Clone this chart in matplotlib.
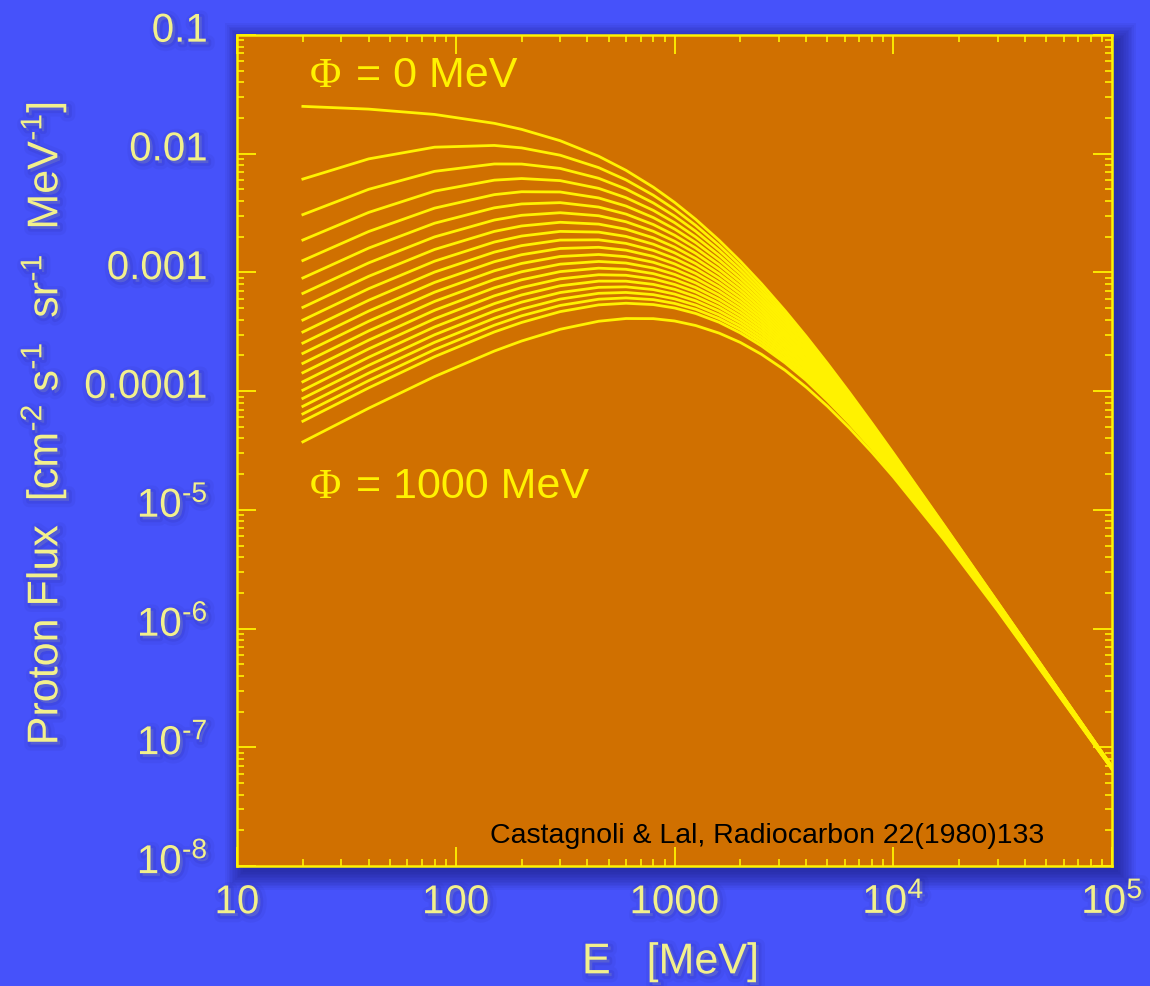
import numpy as np
import matplotlib
matplotlib.use("Agg")
import matplotlib.pyplot as plt
import matplotlib.patheffects as pe
import matplotlib.transforms as mtransforms
from matplotlib.patches import Rectangle
from matplotlib.ticker import LogLocator, NullFormatter

plt.rcParams['font.family'] = ['Liberation Sans', 'DejaVu Sans']
plt.rcParams['mathtext.fontset'] = 'custom'
plt.rcParams['mathtext.rm'] = 'Liberation Sans'
plt.rcParams['mathtext.it'] = 'Liberation Sans:italic'
plt.rcParams['mathtext.bf'] = 'Liberation Sans:bold'

# %%
# proton kinetic energy [MeV]
energy = [20, 40, 80, 150, 200, 300, 450, 600, 800, 1000, 1250, 1600, 2000, 2500,
          3200, 4000, 5000, 6300, 8000, 1e4, 17000, 3e4, 1e5]

# proton flux [cm-2 s-1 sr-1 MeV-1], one curve per modulation potential
flux_phi0 = [2.505e-2, 2.375e-2, 2.142e-2, 1.803e-2, 1.604e-2, 1.287e-2, 9.518e-3, 7.245e-3, 5.223e-3, 3.892e-3, 2.798e-3, 1.863e-3, 1.243e-3, 8.02e-4, 4.766e-4, 2.892e-4, 1.713e-4, 9.751e-5, 5.347e-5, 3.013e-5, 7.498e-6, 1.668e-6, 6.861e-8]
flux_phi50 = [6.116e-3, 9.048e-3, 1.135e-2, 1.174e-2, 1.120e-2, 9.716e-3, 7.635e-3, 6.018e-3, 4.470e-3, 3.399e-3, 2.489e-3, 1.688e-3, 1.142e-3, 7.46e-4, 4.49e-4, 2.753e-4, 1.644e-4, 9.432e-5, 5.205e-5, 2.948e-5, 7.399e-6, 1.655e-6, 6.845e-8]
flux_phi100 = [3.069e-3, 5.014e-3, 7.103e-3, 8.197e-3, 8.185e-3, 7.519e-3, 6.208e-3, 5.043e-3, 3.848e-3, 2.982e-3, 2.222e-3, 1.532e-3, 1.051e-3, 6.96e-4, 4.24e-4, 2.621e-4, 1.579e-4, 9.124e-5, 5.067e-5, 2.884e-5, 7.301e-6, 1.642e-6, 6.829e-8]
flux_phi150 = [1.875e-3, 3.204e-3, 4.842e-3, 5.989e-3, 6.180e-3, 5.935e-3, 5.106e-3, 4.260e-3, 3.331e-3, 2.627e-3, 1.988e-3, 1.393e-3, 9.69e-4, 6.49e-4, 4.00e-4, 2.497e-4, 1.516e-4, 8.825e-5, 4.934e-5, 2.821e-5, 7.205e-6, 1.630e-6, 6.813e-8]
flux_phi200 = [1.260e-3, 2.212e-3, 3.481e-3, 4.522e-3, 4.783e-3, 4.761e-3, 4.240e-3, 3.624e-3, 2.897e-3, 2.322e-3, 1.784e-3, 1.270e-3, 8.95e-4, 6.06e-4, 3.78e-4, 2.379e-4, 1.457e-4, 8.537e-5, 4.803e-5, 2.760e-5, 7.110e-6, 1.617e-6, 6.798e-8]
flux_phi250 = [8.98e-4, 1.604e-3, 2.598e-3, 3.501e-3, 3.776e-3, 3.872e-3, 3.554e-3, 3.101e-3, 2.531e-3, 2.059e-3, 1.605e-3, 1.159e-3, 8.27e-4, 5.66e-4, 3.57e-4, 2.269e-4, 1.400e-4, 8.265e-5, 4.676e-5, 2.700e-5, 7.017e-6, 1.605e-6, 6.782e-8]
flux_phi300 = [6.66e-4, 1.204e-3, 1.992e-3, 2.763e-3, 3.029e-3, 3.184e-3, 3.002e-3, 2.671e-3, 2.220e-3, 1.832e-3, 1.447e-3, 1.060e-3, 7.65e-4, 5.30e-4, 3.38e-4, 2.164e-4, 1.346e-4, 8.001e-5, 4.556e-5, 2.643e-5, 6.925e-6, 1.593e-6, 6.766e-8]
flux_phi350 = [5.08e-4, 9.28e-4, 1.561e-3, 2.216e-3, 2.462e-3, 2.645e-3, 2.553e-3, 2.311e-3, 1.955e-3, 1.635e-3, 1.308e-3, 9.71e-4, 7.09e-4, 4.96e-4, 3.20e-4, 2.067e-4, 1.295e-4, 7.746e-5, 4.438e-5, 2.587e-5, 6.835e-6, 1.581e-6, 6.751e-8]
flux_phi400 = [3.97e-4, 7.30e-4, 1.244e-3, 1.803e-3, 2.025e-3, 2.216e-3, 2.186e-3, 2.010e-3, 1.728e-3, 1.464e-3, 1.186e-3, 8.91e-4, 6.58e-4, 4.65e-4, 3.03e-4, 1.975e-4, 1.245e-4, 7.499e-5, 4.324e-5, 2.532e-5, 6.746e-6, 1.569e-6, 6.735e-8]
flux_phi450 = [3.15e-4, 5.83e-4, 1.007e-3, 1.483e-3, 1.682e-3, 1.873e-3, 1.882e-3, 1.756e-3, 1.532e-3, 1.313e-3, 1.076e-3, 8.19e-4, 6.11e-4, 4.36e-4, 2.87e-4, 1.888e-4, 1.199e-4, 7.267e-5, 4.212e-5, 2.478e-5, 6.658e-6, 1.557e-6, 6.720e-8]
flux_phi500 = [2.54e-4, 4.73e-4, 8.24e-4, 1.231e-3, 1.410e-3, 1.592e-3, 1.628e-3, 1.540e-3, 1.364e-3, 1.181e-3, 9.79e-4, 7.54e-4, 5.68e-4, 4.10e-4, 2.72e-4, 1.807e-4, 1.153e-4, 7.041e-5, 4.104e-5, 2.426e-5, 6.572e-6, 1.545e-6, 6.704e-8]
flux_phi550 = [2.08e-4, 3.88e-4, 6.82e-4, 1.032e-3, 1.191e-3, 1.363e-3, 1.416e-3, 1.357e-3, 1.217e-3, 1.065e-3, 8.92e-4, 6.95e-4, 5.29e-4, 3.85e-4, 2.58e-4, 1.729e-4, 1.111e-4, 6.823e-5, 4.001e-5, 2.376e-5, 6.488e-6, 1.534e-6, 6.689e-8]
flux_phi600 = [1.715e-4, 3.22e-4, 5.70e-4, 8.72e-4, 1.013e-3, 1.174e-3, 1.237e-3, 1.200e-3, 1.089e-3, 9.63e-4, 8.15e-4, 6.42e-4, 4.93e-4, 3.62e-4, 2.45e-4, 1.656e-4, 1.070e-4, 6.611e-5, 3.900e-5, 2.326e-5, 6.404e-6, 1.522e-6, 6.673e-8]
flux_phi650 = [1.43e-4, 2.69e-4, 4.80e-4, 7.42e-4, 8.67e-4, 1.016e-3, 1.086e-3, 1.063e-3, 9.77e-4, 8.72e-4, 7.45e-4, 5.93e-4, 4.60e-4, 3.41e-4, 2.33e-4, 1.585e-4, 1.031e-4, 6.411e-5, 3.802e-5, 2.278e-5, 6.322e-6, 1.511e-6, 6.658e-8]
flux_phi700 = [1.20e-4, 2.27e-4, 4.07e-4, 6.35e-4, 7.46e-4, 8.83e-4, 9.56e-4, 9.46e-4, 8.80e-4, 7.92e-4, 6.83e-4, 5.49e-4, 4.29e-4, 3.21e-4, 2.21e-4, 1.519e-4, 9.93e-5, 6.217e-5, 3.707e-5, 2.230e-5, 6.241e-6, 1.500e-6, 6.643e-8]
flux_phi750 = [1.019e-4, 1.93e-4, 3.475e-4, 5.46e-4, 6.46e-4, 7.72e-4, 8.45e-4, 8.44e-4, 7.93e-4, 7.21e-4, 6.26e-4, 5.09e-4, 4.01e-4, 3.03e-4, 2.10e-4, 1.456e-4, 9.58e-5, 6.029e-5, 3.614e-5, 2.184e-5, 6.162e-6, 1.489e-6, 6.627e-8]
flux_phi800 = [8.69e-5, 1.65e-4, 2.985e-4, 4.73e-4, 5.62e-4, 6.77e-4, 7.49e-4, 7.56e-4, 7.17e-4, 6.57e-4, 5.76e-4, 4.72e-4, 3.76e-4, 2.85e-4, 2.00e-4, 1.396e-4, 9.23e-5, 5.847e-5, 3.525e-5, 2.139e-5, 6.083e-6, 1.478e-6, 6.612e-8]
flux_phi850 = [7.45e-5, 1.42e-4, 2.577e-4, 4.11e-4, 4.91e-4, 5.96e-4, 6.67e-4, 6.78e-4, 6.50e-4, 5.99e-4, 5.30e-4, 4.38e-4, 3.52e-4, 2.69e-4, 1.90e-4, 1.339e-4, 8.91e-5, 5.674e-5, 3.439e-5, 2.096e-5, 6.006e-6, 1.467e-6, 6.597e-8]
flux_phi900 = [6.43e-5, 1.227e-4, 2.238e-4, 3.593e-4, 4.31e-4, 5.27e-4, 5.95e-4, 6.10e-4, 5.90e-4, 5.48e-4, 4.89e-4, 4.08e-4, 3.30e-4, 2.54e-4, 1.81e-4, 1.284e-4, 8.59e-5, 5.507e-5, 3.355e-5, 2.054e-5, 5.930e-6, 1.456e-6, 6.582e-8]
flux_phi950 = [5.58e-5, 1.066e-4, 1.952e-4, 3.152e-4, 3.79e-4, 4.675e-4, 5.33e-4, 5.50e-4, 5.36e-4, 5.02e-4, 4.51e-4, 3.80e-4, 3.09e-4, 2.40e-4, 1.73e-4, 1.232e-4, 8.29e-5, 5.344e-5, 3.273e-5, 2.012e-5, 5.855e-6, 1.445e-6, 6.567e-8]
flux_phi1000 = [3.74e-5, 7.18e-5, 1.327e-4, 2.176e-4, 2.645e-4, 3.32e-4, 3.88e-4, 4.09e-4, 4.08e-4, 3.90e-4, 3.57e-4, 3.08e-4, 2.57e-4, 2.04e-4, 1.50e-4, 1.079e-4, 7.46e-5, 4.890e-5, 3.041e-5, 1.895e-5, 5.638e-6, 1.413e-6, 6.521e-8]

curves = [flux_phi0, flux_phi50, flux_phi100, flux_phi150, flux_phi200, flux_phi250,
          flux_phi300, flux_phi350, flux_phi400, flux_phi450, flux_phi500, flux_phi550,
          flux_phi600, flux_phi650, flux_phi700, flux_phi750, flux_phi800, flux_phi850,
          flux_phi900, flux_phi950, flux_phi1000]

x_ticks = [10, 100, 1000, 1e4, 1e5]
x_ticklabels = ['10', '100', '1000', r'$10^{4}$', r'$10^{5}$']
y_ticks = [1e-8, 1e-7, 1e-6, 1e-5, 1e-4, 1e-3, 1e-2, 1e-1]
y_ticklabels = ['$10^{\u20108}$', '$10^{\u20107}$', '$10^{\u20106}$', '$10^{\u20105}$',
                '0.0001', '0.001', '0.01', '0.1']

# %%
bg_blue = '#4652FA'
plot_orange = '#D07000'
line_yellow = '#FFF200'
label_yellow = '#F2F08C'

shadow = [pe.Stroke(linewidth=9, foreground='#1c1c7a', alpha=0.06, offset=(2, -2)),
          pe.Stroke(linewidth=4, foreground='#1c1c7a', alpha=0.10, offset=(2, -2)),
          pe.Normal()]

fig = plt.figure(figsize=(11.5, 9.86), dpi=100, facecolor=bg_blue)
left, bottom, width, height = 0.2061, 0.1217, 0.7609, 0.8428

# soft drop shadow behind the plot box
for i in range(12):
    grow = i * 1.6
    fig.patches.append(Rectangle(((left * 1150 + 6 - grow) / 1150, (bottom * 986 - 6 - grow) / 986),
                                 (width * 1150 + 2 * grow) / 1150, (height * 986 + 2 * grow) / 986,
                                 transform=fig.transFigure, facecolor='#15156e',
                                 edgecolor='none', alpha=0.06, zorder=-5))

ax = fig.add_axes([left, bottom, width, height])
ax.set_zorder(2)
ax.set_facecolor(plot_orange)

for flux in curves:
    ax.plot(energy, flux, color=line_yellow, lw=2.0, solid_joinstyle='round')

ax.set_xscale('log')
ax.set_yscale('log')

for s in ax.spines.values():
    s.set_color(line_yellow)
    s.set_linewidth(1.8)

ax.xaxis.set_minor_locator(LogLocator(base=10, subs=np.arange(2, 10)))
ax.yaxis.set_minor_locator(LogLocator(base=10, subs=np.arange(2, 10)))
ax.xaxis.set_minor_formatter(NullFormatter())
ax.yaxis.set_minor_formatter(NullFormatter())
ax.set_xticks(x_ticks)
ax.set_xticklabels(x_ticklabels)
ax.set_yticks(y_ticks)
ax.set_yticklabels(y_ticklabels)
ax.set_xlim(10, 1e5)
ax.set_ylim(1e-8, 0.1)

ax.tick_params(which='both', direction='in', top=True, right=True, color=line_yellow,
               labelcolor=label_yellow, labelsize=29)
ax.tick_params(which='major', length=14, width=1.3)
ax.tick_params(which='minor', length=5, width=1.2)
ax.tick_params(axis='x', pad=34)
ax.tick_params(axis='y', pad=21)

for lbl in ax.get_xticklabels():
    lbl.set_verticalalignment('baseline')
    lbl.set_path_effects(shadow)
# y labels sit a little above their ticks in the original
lift = mtransforms.ScaledTranslation(0, 6 / 72, fig.dpi_scale_trans)
for lbl in ax.get_yticklabels():
    lbl.set_transform(lbl.get_transform() + lift)
    lbl.set_path_effects(shadow)

# curve annotations
ax.text(0.083, 0.9374, '\u03a6', transform=ax.transAxes, fontsize=31, color=line_yellow,
        family=['Liberation Serif', 'DejaVu Serif'], va='baseline', ha='left')
ax.text(0.136, 0.9374, '= 0 MeV', transform=ax.transAxes, fontsize=31, color=line_yellow,
        va='baseline', ha='left')
ax.text(0.083, 0.4428, '\u03a6', transform=ax.transAxes, fontsize=31, color=line_yellow,
        family=['Liberation Serif', 'DejaVu Serif'], va='baseline', ha='left')
ax.text(0.136, 0.4428, '= 1000 MeV', transform=ax.transAxes, fontsize=31, color=line_yellow,
        va='baseline', ha='left')
ax.text(0.289, 0.0277, 'Castagnoli & Lal, Radiocarbon 22(1980)133', transform=ax.transAxes,
        fontsize=20.5, color='black', va='baseline', ha='left')

fig.text(0.038, 0.570, 'Proton Flux  [cm$^{\u20102}$ s$^{\u20101}$  sr$^{\u20101}$  MeV$^{\u20101}$]',
         rotation=90, ha='center', va='center', fontsize=31, color=label_yellow, path_effects=shadow)
fig.text(0.583, 0.024, 'E   [MeV]', ha='center', va='center', fontsize=31,
         color=label_yellow, path_effects=shadow)

fig.savefig('out.png', dpi=100, facecolor=bg_blue)
